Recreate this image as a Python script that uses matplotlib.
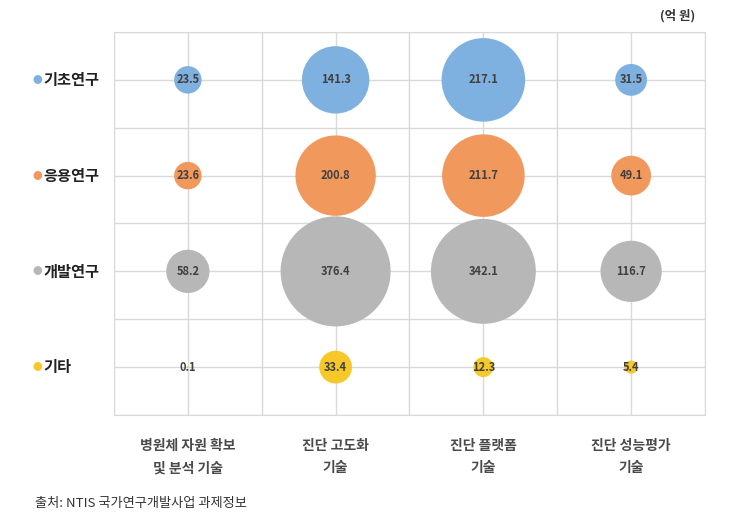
import matplotlib.pyplot as plt
import numpy as np

plt.rcParams['font.family'] = ['Noto Sans CJK KR', 'DejaVu Sans']

techs = ['병원체 자원 확보\n및 분석 기술', '진단 고도화\n기술', '진단 플랫폼\n기술', '진단 성능평가\n기술']
stages = ['기초연구', '응용연구', '개발연구', '기타']
colors = ['#7fb1e0', '#f1985c', '#b7b7b7', '#f7c829']

basic = [23.5, 141.3, 217.1, 31.5]
applied = [23.6, 200.8, 211.7, 49.1]
develop = [58.2, 376.4, 342.1, 116.7]
other = [0.1, 33.4, 12.3, 5.4]
values = [basic, applied, develop, other]

fig = plt.figure(figsize=(7.44, 5.17), dpi=100)
ax = fig.add_axes([0.1532, 0.1973, 0.7944, 0.7408])

x = np.arange(1, len(techs) + 1)
scale = 16.67  # marker area (pt^2) per 억원
for i, (row, c) in enumerate(zip(values, colors)):
    y = np.full(len(x), len(stages) - i)
    ax.scatter(x, y, s=np.array(row) * scale, color=c, edgecolors='none', zorder=3)
    for xi, v in zip(x, row):
        ax.text(xi, len(stages) - i, f'{v}', ha='center', va='center',
                fontsize=8, fontweight='bold', color='#404040', zorder=4)

ax.set_xlim(0.5, 4.5)
ax.set_ylim(0.5, 4.5)
ax.set_xticks(np.arange(0.5, 4.51, 0.5))
ax.set_yticks(np.arange(0.5, 4.51, 0.5))
ax.set_xticklabels([])
ax.set_yticklabels([])
ax.tick_params(length=0)
ax.grid(True, color='#d9d9d9', linewidth=1, zorder=0)
for s in ax.spines.values():
    s.set_color('#d9d9d9')

# row labels with coloured dots
for i, (name, c) in enumerate(zip(stages, colors)):
    yy = len(stages) - i
    ax.text(-0.02, yy, '●', color=c, fontsize=7, ha='center', va='center',
            clip_on=False)
    ax.text(0.025, yy, name, fontsize=11, fontweight='bold', color='#222222',
            ha='left', va='center', clip_on=False)

# column labels
for xi, t in zip(x, techs):
    ax.text(xi, 0.25, t, ha='center', va='top', fontsize=10, fontweight='bold',
            color='#4a4a4a', linespacing=1.75, clip_on=False)

fig.text(0.935, 0.97, '(억 원)', ha='right', va='center', fontsize=9,
         fontweight='bold', color='#333333')
fig.text(0.047, 0.027, '출처: NTIS 국가연구개발사업 과제정보', ha='left', va='center',
         fontsize=9.5, color='#333333')

fig.savefig('out.png', dpi=100)
